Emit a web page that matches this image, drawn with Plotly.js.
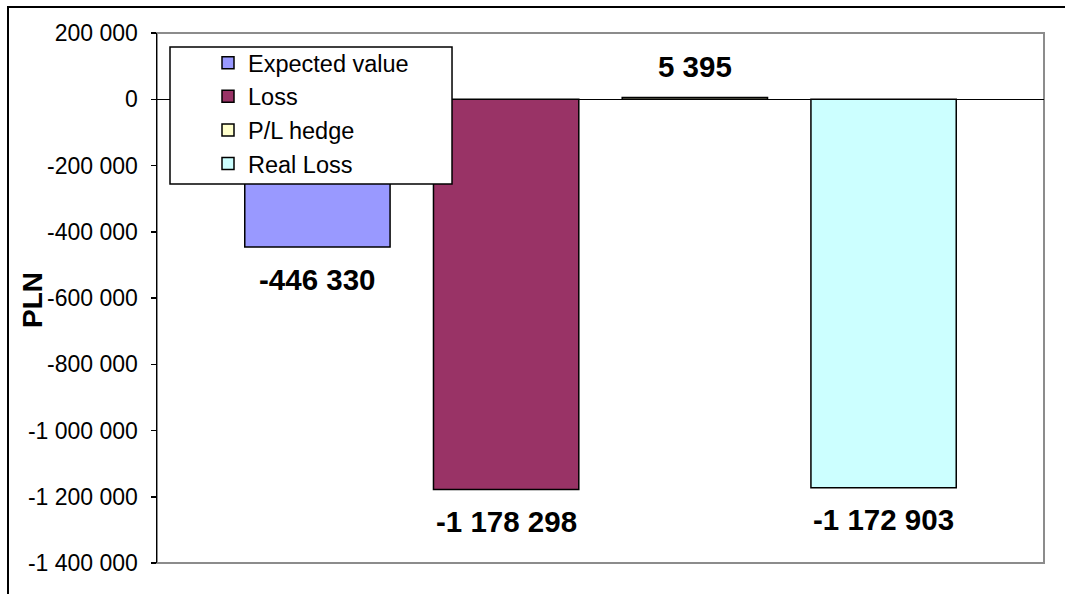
<!DOCTYPE html>
<html>
<head>
<meta charset="utf-8">
<script src="https://cdn.plot.ly/plotly-3.0.1.min.js"></script>
<style>
  html, body { margin: 0; padding: 0; overflow: hidden; background: #fff; }
  #wrap { position: relative; width: 1065px; height: 594px; }
  #chart { width: 1065px; height: 594px; }
  #frame { position: absolute; left: 7px; top: 6px; width: 1200px; height: 800px;
           border-left: 2px solid #000; border-top: 2px solid #000; pointer-events: none; }
</style>
</head>
<body>
<div id="wrap"><div id="chart"></div><div id="frame"></div></div>
<script>
// ---- data ----
const seriesNames = ['Expected value', 'Loss', 'P/L hedge', 'Real Loss'];
const seriesValues = [-446330, -1178298, 5395, -1172903];
const tickVals = [200000, 0, -200000, -400000, -600000, -800000, -1000000, -1200000, -1400000];
const tickText = ['200 000', '0', '-200 000', '-400 000', '-600 000', '-800 000', '-1 000 000', '-1 200 000', '-1 400 000'];
const axisTitle = 'PLN';

// ---- style ----
const seriesColors = ['#9999FF', '#993366', '#FFFFCC', '#CCFFFF'];
const FONT = 'Liberation Sans, Arial, sans-serif';

function fmt(v) {
  const s = String(Math.abs(v)).replace(/\B(?=(\d{3})+(?!\d))/g, ' ');
  return (v < 0 ? '-' : '') + s;
}

const traces = seriesNames.map((n, i) => ({
  type: 'bar',
  name: n,
  x: [n],
  y: [seriesValues[i]],
  marker: { color: seriesColors[i], line: { color: '#000', width: 1.5 } },
  hoverinfo: 'none'
}));

const labelAnnotations = seriesNames.map((n, i) => ({
  x: n, y: seriesValues[i], xref: 'x', yref: 'y',
  text: '<b>' + fmt(seriesValues[i]) + '</b>',
  showarrow: false,
  yanchor: 'middle',
  yshift: seriesValues[i] < 0 ? -32 : 31,
  font: { family: FONT, size: 29.5, color: '#000' }
}));

const layout = {
  width: 1065, height: 594,
  margin: { l: 157, r: 21, t: 33, b: 31 },
  paper_bgcolor: 'rgba(0,0,0,0)',
  plot_bgcolor: '#fff',
  barmode: 'overlay',
  bargap: 0.23,
  showlegend: true,
  font: { family: FONT, color: '#000' },
  xaxis: {
    type: 'category',
    range: [-0.85, 3.85],
    showticklabels: false, ticks: '', showgrid: false, zeroline: false,
    showline: false, fixedrange: true
  },
  yaxis: {
    range: [-1400000, 200000],
    tickvals: tickVals, ticktext: tickText,
    ticks: 'outside', ticklen: 5, tickwidth: 1.5, tickcolor: '#000',
    ticklabelstandoff: 8,
    tickfont: { family: FONT, size: 23, color: '#000' },
    showgrid: false,
    zeroline: true, zerolinecolor: '#000', zerolinewidth: 1,
    showline: true, linecolor: '#000', linewidth: 1.5,
    fixedrange: true
  },
  legend: {
    x: 0.0575, y: 0.9849, xanchor: 'left', yanchor: 'top',
    bgcolor: 'rgba(0,0,0,0)', borderwidth: 0,
    font: { family: FONT, size: 23.5, color: '#000' },
    traceorder: 'normal'
  },
  shapes: [
    { type: 'rect', xref: 'paper', yref: 'paper', x0: 0, x1: 1, y0: 0, y1: 1,
      line: { color: '#8c8c8c', width: 2 }, layer: 'below' },
    { type: 'rect', xref: 'paper', yref: 'paper', x0: 0.01466, x1: 0.3326, y0: 0.7151, y1: 0.9736,
      line: { color: '#000', width: 1.5 }, fillcolor: '#fff', layer: 'above' }
  ],
  annotations: labelAnnotations.concat([{
    xref: 'paper', yref: 'paper', x: -0.1409, y: 0.4962,
    text: '<b>' + axisTitle + '</b>', textangle: -90, showarrow: false,
    xanchor: 'center', yanchor: 'middle',
    font: { family: FONT, size: 28, color: '#000' }
  }])
};

Plotly.newPlot('chart', traces, layout, { displayModeBar: false, staticPlot: true });
</script>
</body>
</html>
